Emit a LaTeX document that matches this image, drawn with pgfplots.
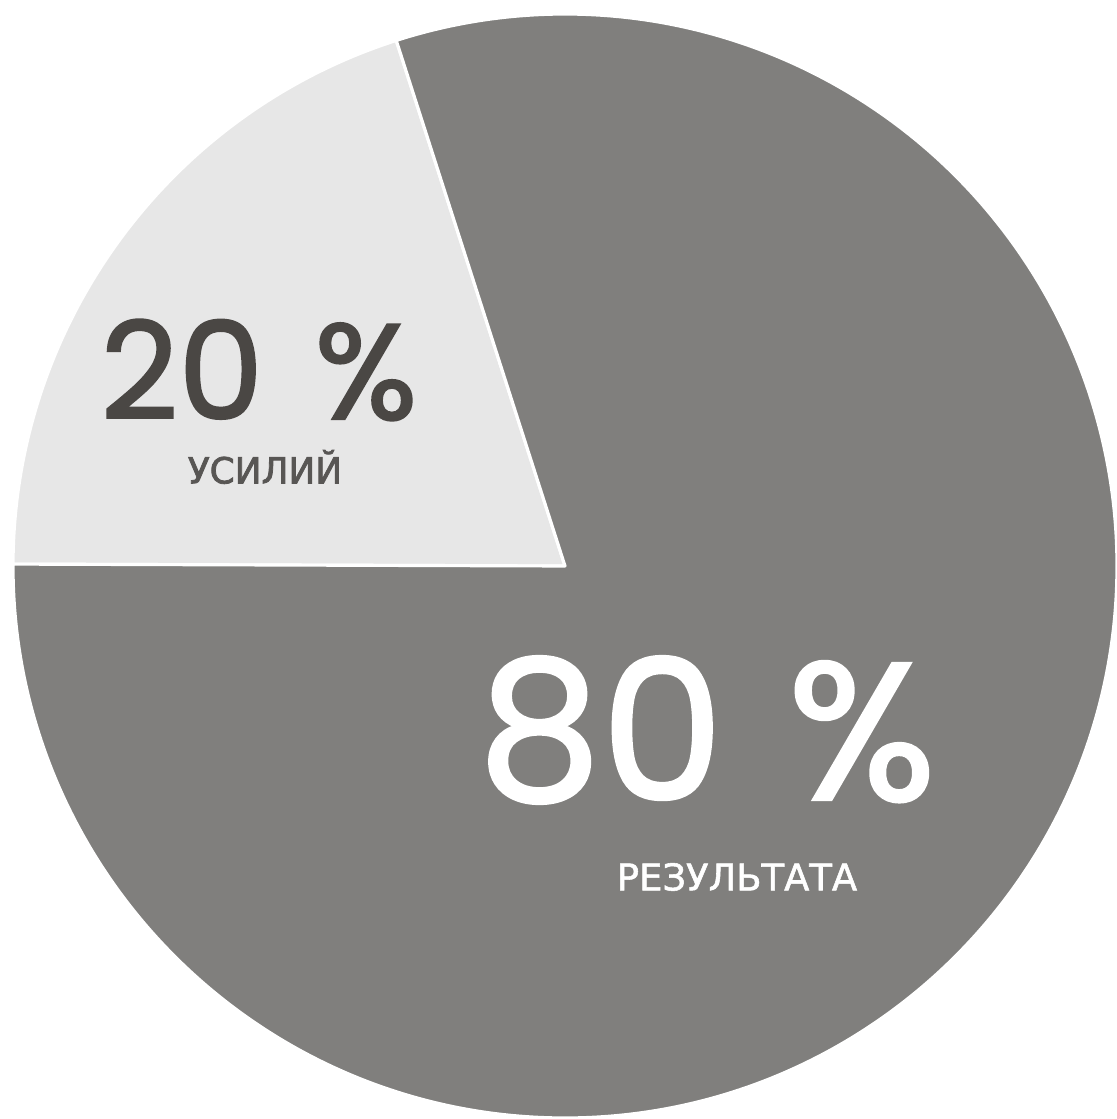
\documentclass[border=0pt]{standalone}
\usepackage{pgfplots}
\pgfplotsset{compat=1.18}
\usepackage{pgfplotstable}
\usepackage{fontspec}
\setmainfont{DejaVu Sans}
\newfontfamily\numfont[FakeBold=1.6]{Poppins}
\newfontfamily\cyrbold[FakeBold=2.2]{DejaVu Sans}
\newfontfamily\cyrmed[FakeBold=1.5]{DejaVu Sans}
\definecolor{darkslice}{RGB}{128,127,125}
\definecolor{lightslice}{RGB}{231,231,231}
\definecolor{txtdark}{RGB}{74,71,68}
\definecolor{txtmid}{RGB}{88,86,84}
\pgfplotstableread{
label value
effort 20
result 80
}\piedata
\begin{document}
\begin{tikzpicture}
\pgfplotstablegetelem{0}{value}\of\piedata \let\vA\pgfplotsretval
\pgfplotstablegetelem{1}{value}\of\piedata \let\vB\pgfplotsretval
\pgfmathsetmacro{\startA}{107.8}
\pgfmathsetmacro{\endA}{\startA+3.6*\vA}
\pgfmathsetmacro{\endB}{\endA+3.6*\vB}
\begin{axis}[
  width=11.17cm, height=11.19cm, scale only axis,
  xmin=0, xmax=1117, ymin=0, ymax=1119,
  hide axis, clip=false,
]
\coordinate (bl) at (axis cs:0,0);
\coordinate (tr) at (axis cs:1117,1119);
% slices drawn in axis coordinates (1 unit = 0.01cm)
\fill[lightslice, draw=white, line width=0.9pt, line join=round]
  (axis cs:565,553) -- ++(\startA:5.52cm) arc[start angle=\startA, end angle=\endA, radius=5.52cm] -- cycle;
\fill[darkslice, draw=white, line width=0.9pt, line join=round]
  (axis cs:565,553) -- ++(\endA:5.52cm) arc[start angle=\endA, end angle=\endB, radius=5.52cm] -- cycle;
\node[inner sep=0pt, text=txtdark, font=\numfont\fontsize{38.5}{44}\selectfont] at (axis cs:259,749) {20\hspace{0.38em}\%};
\node[inner sep=0pt, text=txtmid, font=\cyrbold\fontsize{10.2}{12}\selectfont] at (axis cs:265,652) {\MakeUppercase{усилий}};
\node[inner sep=0pt, text=white, font=\numfont\fontsize{55.5}{62}\selectfont] at (axis cs:707,389) {80\hspace{0.33em}\%};
\node[inner sep=0pt, text=white, font=\cyrmed\fontsize{10.5}{12}\selectfont] at (axis cs:737,242) {РЕЗУЛЬТАТА};
\end{axis}
\pgfresetboundingbox
\path[use as bounding box] (bl) rectangle (tr);
\end{tikzpicture}
\end{document}
